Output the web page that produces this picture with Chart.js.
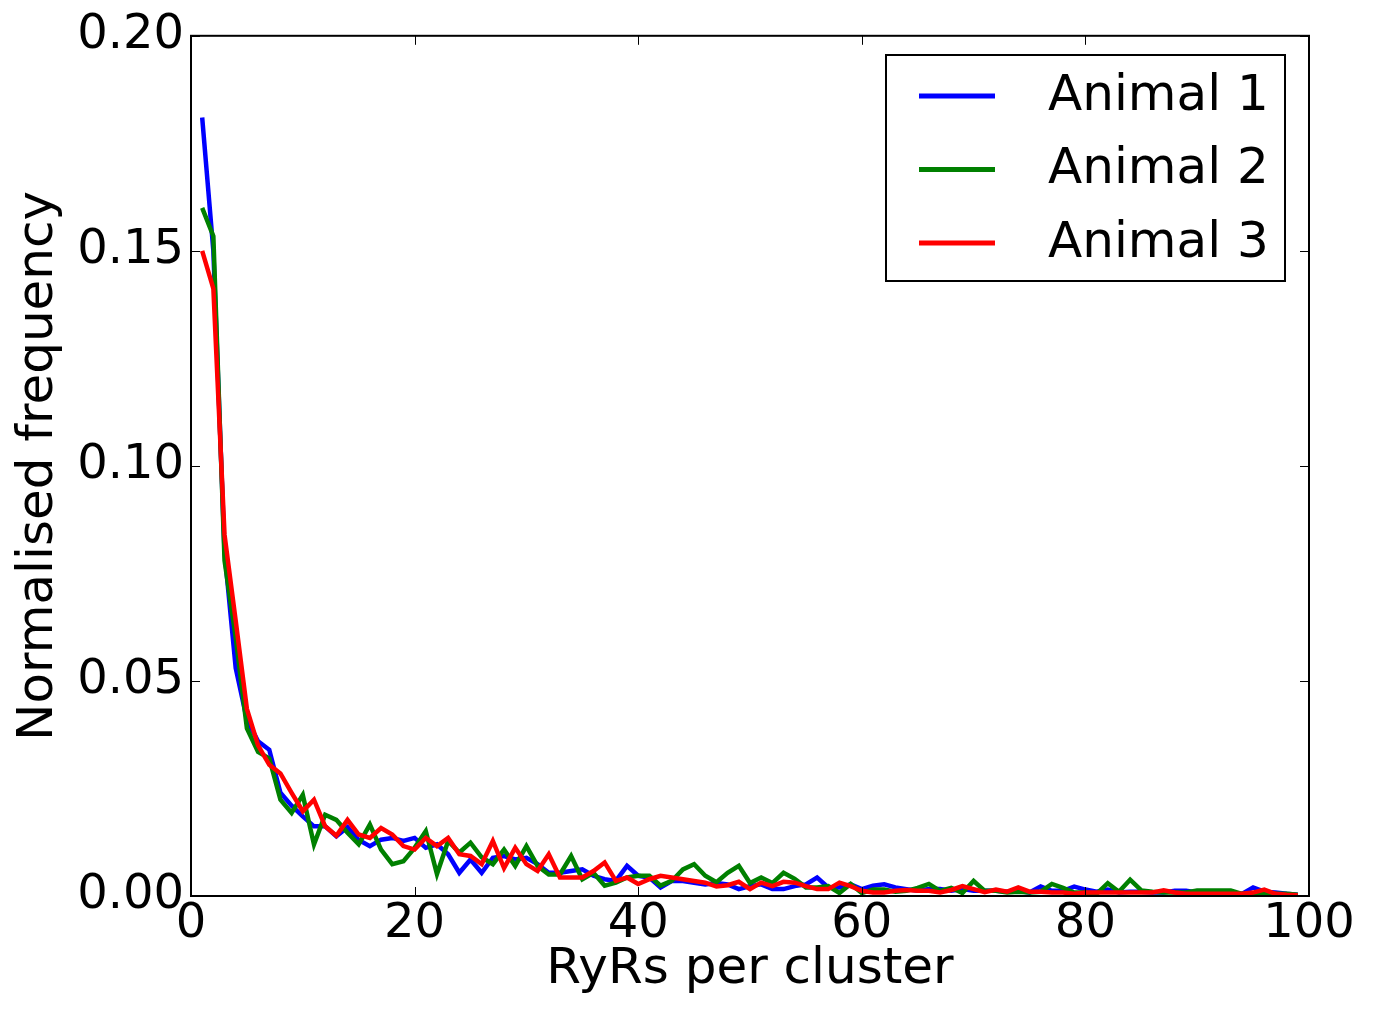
<!DOCTYPE html>
<html><head><meta charset="utf-8">
<script src="https://cdn.jsdelivr.net/npm/chart.js@4"></script>
<style>html,body{margin:0;padding:0;background:#fff;}</style>
</head><body>
<canvas id="c" width="1377" height="1009"></canvas>
<script>
const clusterSizes = [1,2,3,4,5,6,7,8,9,10,11,12,13,14,15,16,17,18,19,20,21,22,23,24,25,26,27,28,29,30,31,32,33,34,35,36,37,38,39,40,41,42,43,44,45,46,47,48,49,50,51,52,53,54,55,56,57,58,59,60,61,62,63,64,65,66,67,68,69,70,71,72,73,74,75,76,77,78,79,80,81,82,83,84,85,86,87,88,89,90,91,92,93,94,95,96,97,98,99];

const animal1 = [0.181,0.150,0.080,0.053,0.041,0.036,0.034,0.024,0.021,0.0185,
0.0162,0.0162,0.0139,0.0160,0.0130,0.0116,0.0131,0.0135,0.0128,0.0135,
0.0112,0.0120,0.0097,0.0054,0.0085,0.0054,0.0089,0.0093,0.0085,0.0089,
0.0074,0.0054,0.0054,0.0058,0.0062,0.0047,0.0039,0.0035,0.0070,0.0047,
0.0043,0.0020,0.0035,0.0035,0.0031,0.0027,0.0030,0.0027,0.0016,0.0023,
0.0027,0.0016,0.0016,0.0023,0.0027,0.0043,0.0020,0.0020,0.0027,0.0016,
0.0024,0.0027,0.0020,0.0016,0.0012,0.0016,0.0016,0.0012,0.0016,0.0012,
0.0012,0.0012,0.0010,0.0012,0.0008,0.0022,0.0012,0.0012,0.0022,0.0015,
0.0010,0.0015,0.0008,0.0010,0.0010,0.0008,0.0008,0.0012,0.0012,0.0008,
0.0008,0.0008,0.0005,0.0005,0.0020,0.0010,0.0008,0.0005,0.0003];

const animal2 = [0.160,0.1534,0.078,0.060,0.039,0.0335,0.032,0.0224,0.0193,0.0235,
0.0120,0.0189,0.0177,0.0147,0.0120,0.0166,0.0108,0.0074,0.0081,0.0112,
0.0151,0.0051,0.0128,0.0101,0.0124,0.0090,0.0074,0.0108,0.0070,0.0116,
0.0070,0.0050,0.0050,0.0093,0.0039,0.0054,0.0024,0.0031,0.0043,0.0047,
0.0047,0.0024,0.0035,0.0062,0.0074,0.0047,0.0032,0.0054,0.0070,0.0030,
0.0043,0.0030,0.0054,0.0040,0.0020,0.0020,0.0023,0.0007,0.0028,0.0007,
0.0015,0.0015,0.0010,0.0012,0.0019,0.0028,0.0012,0.0019,0.0007,0.0035,
0.0012,0.0012,0.0008,0.0010,0.0008,0.0010,0.0028,0.0019,0.0008,0.0008,
0.0005,0.0030,0.0010,0.0038,0.0013,0.0010,0.0008,0.0008,0.0008,0.0013,
0.0013,0.0013,0.0013,0.0005,0.0005,0.0005,0.0005,0.0005,0.0003];

const animal3 = [0.150,0.1412,0.084,0.064,0.0435,0.035,0.0305,0.0285,0.024,0.0197,
0.0224,0.0162,0.0140,0.0177,0.0143,0.0135,0.0158,0.0143,0.0116,0.0108,
0.0135,0.0116,0.0135,0.0097,0.0093,0.0074,0.0128,0.0065,0.0112,0.0074,
0.0058,0.0097,0.0043,0.0043,0.0043,0.0058,0.0078,0.0035,0.0043,0.0028,
0.0039,0.0047,0.0043,0.0039,0.0035,0.0031,0.0022,0.0025,0.0033,0.0016,
0.0031,0.0023,0.0033,0.0031,0.0023,0.0016,0.0016,0.0031,0.0023,0.0012,
0.0008,0.0008,0.0012,0.0014,0.0012,0.0012,0.0008,0.0014,0.0023,0.0016,
0.0009,0.0015,0.0010,0.0020,0.0010,0.0010,0.0008,0.0008,0.0005,0.0008,
0.0008,0.0008,0.0008,0.0008,0.0008,0.0008,0.0013,0.0008,0.0005,0.0005,
0.0005,0.0005,0.0005,0.0005,0.0008,0.0015,0.0005,0.0003,0.0002];

const seriesNames = ['Animal 1','Animal 2','Animal 3'];
const seriesColors = ['#0000ff','#008000','#ff0000'];
const xTicks = [0,20,40,60,80,100];
const yTicks = [0,0.05,0.10,0.15,0.20];

const FONT = 'DejaVu Sans';
Chart.defaults.font.family = FONT;
Chart.defaults.color = '#000';

function pts(arr){ return clusterSizes.map((x,i)=>({x:x,y:arr[i]})); }

const framePlugin = {
  id:'frame',
  afterDatasetsDraw(chart){
    const ctx = chart.ctx, a = chart.chartArea;
    const xs = chart.scales.x, ys = chart.scales.y;
    ctx.save();
    ctx.strokeStyle = '#000';
    ctx.lineWidth = 1;
    const L = 9;
    ctx.beginPath();
    xTicks.forEach(v=>{
      const px = Math.round(xs.getPixelForValue(v))+0.5;
      ctx.moveTo(px,a.bottom); ctx.lineTo(px,a.bottom-L);
      ctx.moveTo(px,a.top); ctx.lineTo(px,a.top+L);
    });
    yTicks.forEach(v=>{
      const py = Math.round(ys.getPixelForValue(v))+0.5;
      ctx.moveTo(a.left,py); ctx.lineTo(a.left+L,py);
      ctx.moveTo(a.right,py); ctx.lineTo(a.right-L,py);
    });
    ctx.stroke();
    ctx.lineWidth = 2;
    ctx.strokeRect(a.left, a.top, a.right-a.left, a.bottom-a.top);
    // legend
    const bx=886, by=55, bw=399, bh=226;
    ctx.fillStyle='#fff';
    ctx.fillRect(bx,by,bw,bh);
    ctx.strokeRect(bx,by,bw,bh);
    ctx.font = '50px "'+FONT+'"';
    ctx.textBaseline='middle';
    ctx.textAlign='left';
    chart.data.datasets.forEach((ds,i)=>{
      const y = 96 + i*73.5;
      ctx.strokeStyle = ds.borderColor;
      ctx.lineWidth = 5;
      ctx.beginPath(); ctx.moveTo(919,y); ctx.lineTo(995,y); ctx.stroke();
      ctx.fillStyle='#000';
      ctx.fillText(ds.label, 1048, y+1);
    });
    ctx.restore();
  }
};

new Chart(document.getElementById('c'), {
  type:'line',
  data:{
    datasets: seriesNames.map((n,i)=>({
      label:n,
      data: pts([animal1,animal2,animal3][i]),
      borderColor: seriesColors[i],
      backgroundColor: seriesColors[i],
      borderWidth: 4.5,
      pointRadius: 0,
      tension: 0,
      fill: false,
      order: 3-i
    }))
  },
  options:{
    responsive:false,
    animation:false,
    devicePixelRatio:1,
    layout:{padding:{left:0,top:31,right:68,bottom:0}},
    plugins:{legend:{display:false},tooltip:{enabled:false}},
    scales:{
      x:{
        type:'linear', min:0, max:100,
        afterFit(s){ s.height = 113; },
        afterBuildTicks(s){ s.ticks = xTicks.map(v=>({value:v})); },
        grid:{display:false, drawTicks:false},
        border:{display:false},
        ticks:{padding:0, font:{size:48}, color:'#000', maxRotation:0, autoSkip:false, callback:v=>String(v)},
        title:{display:true, text:'RyRs per cluster', font:{size:50}, color:'#000', padding:{top:0,bottom:9}}
      },
      y:{
        type:'linear', min:0, max:0.2,
        afterFit(s){ s.width = 191; },
        afterBuildTicks(s){ s.ticks = yTicks.map(v=>({value:v})); },
        grid:{display:false, drawTicks:false},
        border:{display:false},
        ticks:{padding:7, font:{size:48}, color:'#000', autoSkip:false, callback:v=>v.toFixed(2)},
        title:{display:true, text:'Normalised frequency', font:{size:50}, color:'#000', padding:{top:9,bottom:0}}
      }
    }
  },
  plugins:[framePlugin]
});
</script>
</body></html>
